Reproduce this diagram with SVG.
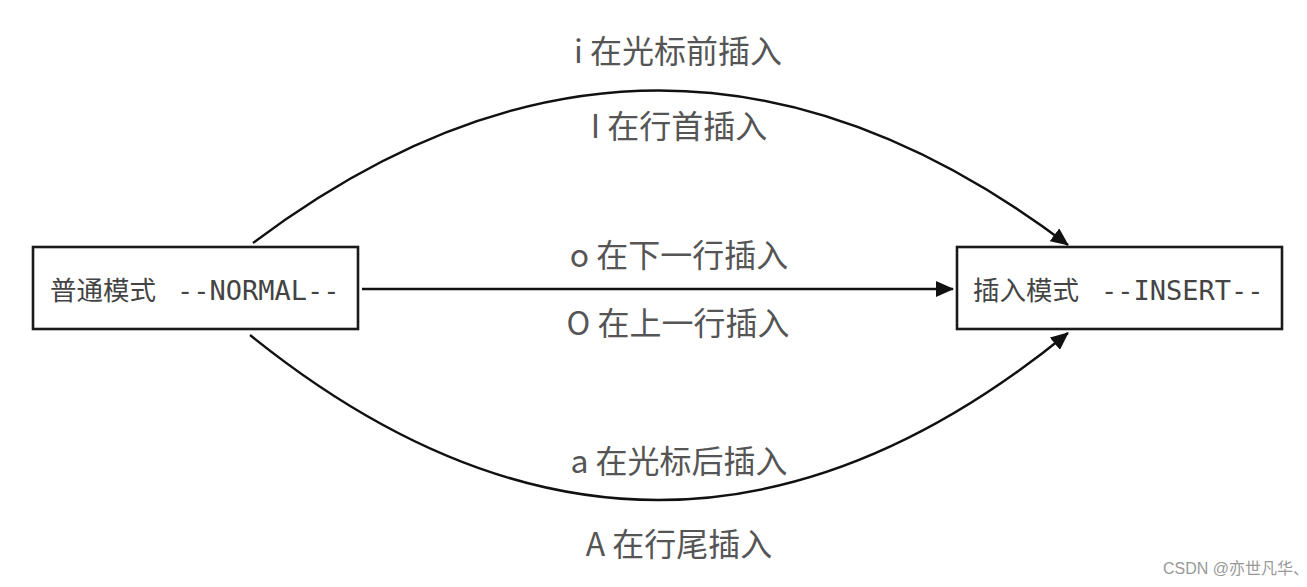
<svg xmlns="http://www.w3.org/2000/svg" width="1307" height="587" viewBox="0 0 1307 587">
<style>
.box{fill:#fff;stroke:#1a1a1a;stroke-width:2.6}
.bt{font-family:"Noto Sans CJK SC","Noto Sans",sans-serif;font-size:26.5px;fill:#444}
.mono{font-family:"DejaVu Sans Mono","Liberation Mono",monospace;font-size:27px;fill:#444}
.lbl{font-family:"Noto Sans CJK SC","Noto Sans",sans-serif;font-size:32px;fill:#555;text-anchor:middle}
.edge{fill:none;stroke:#111;stroke-width:2.4}
.wm{font-family:"Liberation Sans","Noto Sans CJK SC",sans-serif;font-size:16px;fill:#999}
</style>
<defs>
<marker id="ah" viewBox="0 0 18 16" refX="17" refY="8" markerWidth="18" markerHeight="16" markerUnits="userSpaceOnUse" orient="auto">
<path d="M0,0 L18,8 L0,16 Z" fill="#111"/>
</marker>
</defs>
<rect width="1307" height="587" fill="#fff"/>
<g id="connectors">
<path class="edge" d="M253,243 Q660,-63 1068,245" marker-end="url(#ah)"/>
<path class="edge" d="M362,289 L953,289" marker-end="url(#ah)"/>
<path class="edge" d="M250,335 Q660,666 1068,333" marker-end="url(#ah)"/>
</g>
<g id="normal">
<rect class="box" x="33" y="247" width="325" height="82"/>
<text class="bt" x="50" y="300">普通模式</text>
<text class="mono" x="177" y="300">--NORMAL--</text>
</g>
<g id="insert">
<rect class="box" x="957" y="247" width="325" height="82"/>
<text class="bt" x="973" y="300">插入模式</text>
<text class="mono" x="1101" y="300">--INSERT--</text>
</g>
<g id="labels">
<text class="lbl" x="678" y="63">i 在光标前插入</text>
<text class="lbl" x="679" y="138">I 在行首插入</text>
<text class="lbl" x="679" y="267">o 在下一行插入</text>
<text class="lbl" x="678" y="335">O 在上一行插入</text>
<text class="lbl" x="679" y="473">a 在光标后插入</text>
<text class="lbl" x="679" y="556">A 在行尾插入</text>
</g>
<text class="wm" x="1163" y="574">CSDN @亦世凡华、</text>
</svg>
